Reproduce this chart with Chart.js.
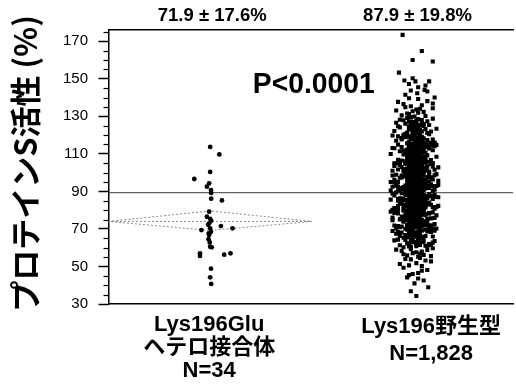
<!DOCTYPE html>
<html><head><meta charset="utf-8">
<script src="https://cdn.jsdelivr.net/npm/chart.js@4.4.1/dist/chart.umd.min.js"></script>
<style>html,body{margin:0;padding:0;background:#fff}canvas{display:block}</style>
</head><body>
<canvas id="c" width="516" height="384" style="width:516px;height:384px"></canvas>
<script>
// ---------- data ----------
const groupNames = [['Lys196Glu', 'ヘテロ接合体'], ['Lys196野生型']];
const groupN = ['N=34', 'N=1,828'];
const groupCenters = [1, 2];
const groupMeans = [71.9, 87.9];
const groupSDs = [17.6, 19.8];
const pValueText = 'P<0.0001';
const yTitle = ' プロテインS活性 (%)';
const refLineValue = 89.3;
const diamondValues = [69.2, 74.0, 79.6]; // low, centre, high
const yTickValues = [30, 50, 70, 90, 110, 130, 150, 170];
const yMinorTickValues = [35, 40, 45, 55, 60, 65, 75, 80, 85, 95, 100, 105, 115, 120, 125, 135, 140, 145, 155, 160, 165, 175];

// Lys196Glu heterozygotes (N=34)
const hetValues = [113.7, 109.7, 100.4, 96.6, 94.3, 92.5, 90.7, 89.2, 86.1, 85.2,
  79.2, 76.5, 75.4, 74.3, 73.0, 72.2, 71.5, 70.3, 70.3, 69.4,
  68.5, 67.6, 66.8, 64.5, 62.8, 60.5, 60.2, 57.0, 55.6, 56.3,
  57.0, 48.8, 44.2, 40.7];
const hetJitter = [0.00, 0.045, 0.00, -0.078, -0.005, -0.016, 0.004, 0.005, 0.005, 0.058,
  -0.005, -0.016, 0.00, 0.005, -0.005, -0.01, 0.053, 0.00, 0.11, -0.043,
  0.004, -0.007, -0.005, -0.008, -0.002, 0.00, 0.008, -0.05, -0.05, 0.069,
  0.10, 0.004, 0.00, 0.005];

// Lys196 wild type (visible marks of N=1,828)
const wtValues = [
  173.4,164.8,160.0,159.2,153.3,150.3,149.1,148.6,148.6,144.1,143.2,142.3,140.0,147.2,145.5,141.5,143.8,146.4,
  139.2,136.5,138.1,135.4,137.7,135.9,139.6,136.8,
  134.3,131.2,133.6,130.5,132.4,134.8,131.9,130.2,133.1,132.7,134.0,131.5,
  129.6,126.3,128.2,125.7,127.4,129.1,125.2,126.9,128.8,127.9,125.9,129.9,126.6,128.5,127.1,125.4,128.0,126.1,
  124.6,121.3,123.2,120.4,122.8,124.1,121.9,120.9,123.7,122.2,124.9,121.6,120.2,123.4,122.5,124.3,121.1,120.7,123.9,122.0,124.7,121.8,120.5,123.0,122.6,
  119.5,116.2,118.4,115.3,117.6,119.1,116.8,115.8,118.9,117.2,119.8,116.5,115.1,118.1,117.9,119.3,116.0,115.6,118.6,117.4,119.6,116.9,115.4,118.3,117.0,119.0,116.4,115.9,118.7,117.7,116.6,118.0,
  114.7,111.2,113.5,110.3,112.6,114.1,111.8,110.8,113.9,112.2,114.9,111.5,110.1,113.1,112.9,114.4,111.0,110.6,113.6,112.4,114.6,111.9,110.4,113.3,112.0,114.0,111.4,110.9,113.7,112.7,111.6,113.0,114.3,110.2,112.3,111.1,113.8,114.8,
  109.4,106.1,108.3,105.2,107.5,109.0,106.7,105.7,108.8,107.1,109.7,106.4,105.0,108.0,107.8,109.2,105.9,105.5,108.5,107.3,109.5,106.8,105.3,108.2,106.9,109.9,106.3,105.8,108.6,107.6,106.5,107.9,109.1,105.1,107.2,106.0,108.7,109.6,106.2,107.4,108.1,105.6,
  104.5,101.2,103.3,100.4,102.6,104.0,101.7,100.9,103.8,102.1,104.8,101.5,100.2,103.0,102.9,104.3,101.0,100.6,103.5,102.3,104.6,101.9,100.1,103.2,102.0,104.9,101.3,100.7,103.7,102.7,101.6,102.8,104.1,100.3,102.4,101.1,103.9,104.7,101.4,102.5,103.1,100.8,104.2,101.8,103.6,100.5,102.2,103.4,
  99.6,96.3,98.4,95.2,97.5,99.1,96.8,95.7,98.9,97.1,99.8,96.5,95.0,98.1,97.9,99.3,96.0,95.5,98.6,97.3,99.5,96.9,95.3,98.3,97.0,99.0,96.2,95.9,98.7,97.7,96.6,98.0,99.2,95.1,97.2,96.1,98.8,99.7,96.4,97.4,98.2,95.8,99.4,96.7,98.5,95.4,97.6,99.9,96.1,97.8,95.6,98.4,
  94.5,91.2,93.4,90.3,92.6,94.1,91.8,90.7,93.9,92.2,94.8,91.5,90.1,93.1,92.9,94.3,91.0,90.6,93.6,92.4,94.6,91.9,90.4,93.3,92.0,94.0,91.4,90.9,93.7,92.7,91.6,93.0,94.2,90.2,92.3,91.1,93.8,94.7,91.3,92.5,93.2,90.8,94.4,91.7,93.5,90.5,92.1,94.9,91.1,92.8,90.0,93.4,92.6,94.2,91.6,
  89.4,86.1,88.3,85.2,87.5,89.0,86.7,85.7,88.8,87.1,89.7,86.4,85.0,88.0,87.8,89.2,85.9,85.5,88.5,87.3,89.5,86.8,85.3,88.2,86.9,89.9,86.3,85.8,88.6,87.6,86.5,87.9,89.1,85.1,87.2,86.0,88.7,89.6,86.2,87.4,88.1,85.6,89.3,86.6,88.4,85.4,87.0,89.8,86.9,87.7,85.9,88.9,87.5,86.3,88.2,
  84.6,81.3,83.2,80.4,82.7,84.1,81.8,80.8,83.9,82.1,84.9,81.5,80.2,83.0,82.9,84.4,81.0,80.6,83.6,82.3,84.7,81.9,80.1,83.3,82.0,84.0,81.4,80.9,83.7,82.6,81.6,82.8,84.2,80.3,82.4,81.1,83.8,84.8,81.2,82.5,83.1,80.7,84.3,81.7,83.5,80.5,82.2,84.5,81.5,83.4,80.0,82.9,
  79.5,76.2,78.4,75.3,77.6,79.1,76.8,75.8,78.9,77.2,79.8,76.5,75.1,78.1,77.9,79.3,76.0,75.6,78.6,77.4,79.6,76.9,75.4,78.3,77.0,79.0,76.4,75.9,78.7,77.7,76.6,78.0,79.2,75.2,77.3,76.1,78.8,79.7,76.3,77.5,78.2,75.7,79.4,76.7,78.5,
  74.6,71.3,73.2,70.4,72.7,74.1,71.8,70.8,73.9,72.1,74.9,71.5,70.2,73.0,72.9,74.4,71.0,70.6,73.6,72.3,74.7,71.9,70.1,73.3,72.0,74.0,71.4,70.9,73.7,72.6,71.6,72.8,74.2,70.3,72.4,71.1,73.8,74.8,
  69.5,66.2,68.3,65.4,67.6,69.1,66.8,65.8,68.9,67.2,69.8,66.5,65.1,68.1,67.9,69.3,66.0,65.6,68.6,67.4,69.6,66.9,65.3,68.4,67.0,69.0,66.3,65.9,68.7,67.7,
  64.6,61.3,63.2,60.5,62.7,64.1,61.8,60.9,63.9,62.1,64.8,61.5,60.2,63.0,62.9,64.3,61.0,60.7,63.6,62.3,64.5,61.9,
  59.4,56.2,58.3,55.5,57.6,59.0,56.8,55.9,58.8,57.1,59.7,56.5,55.2,58.0,
  54.5,51.3,53.2,50.6,52.7,54.0,51.8,50.2,53.8,
  49.3,46.5,48.1,45.4,47.7,46.0,
  44.2,42.5,41.0,43.6,
  38.9,36.8,
  34.3,
  // dense core
  60.8,62.3,63.9,65.1,66.7,68.2,69.6,61.5,64.4,67.3,69.0,62.9,65.8,68.7,63.2,
  70.3,71.8,73.1,74.6,75.9,77.4,78.8,79.7,70.9,72.5,73.8,75.2,76.6,78.1,79.3,71.2,72.9,74.1,75.6,77.0,78.5,70.6,72.1,73.5,74.9,76.3,77.8,79.1,71.5,76.0,
  80.2,81.4,82.7,83.9,85.1,86.4,87.6,88.9,80.8,82.0,83.3,84.5,85.8,87.0,88.3,89.5,81.1,82.4,83.6,84.9,86.1,87.3,88.6,89.8,80.5,81.7,83.0,84.2,85.5,86.7,88.0,89.2,81.9,84.0,86.0,88.1,82.9,85.3,87.8,89.0,
  90.3,91.5,92.8,94.0,95.2,96.5,97.7,99.0,90.9,92.1,93.4,94.6,95.9,97.1,98.4,99.6,91.2,92.4,93.7,94.9,96.2,97.4,98.7,99.9,90.6,91.8,93.1,94.3,95.6,96.8,98.1,99.3,92.6,94.8,97.0,99.1,91.0,93.9,96.0,98.9,
  100.4,101.7,102.9,104.2,105.4,106.7,107.9,109.2,100.9,102.2,103.5,104.7,106.0,107.3,108.5,109.8,101.2,102.6,103.9,105.1,106.4,107.6,108.9,100.1,101.5,102.8,104.0,105.7,106.9,108.2,109.5,103.1,105.9,108.0,101.9,
  110.3,111.6,112.8,114.1,115.3,116.6,117.8,119.1,110.9,112.2,113.4,114.7,116.0,117.2,118.5,119.7,111.2,113.8,115.7,118.0,110.6,112.5,114.4,116.9,119.4,
  120.4,121.8,123.1,124.5,125.9,127.2,120.9,122.3,123.7,125.0,126.4,127.8,121.4,124.0,126.8];
const wtJitter = [
  -.065,.04,-.01,.10,-.085,-.01,-.055,.005,.08,.055,.07,.015,.11,-.03,.02,-.05,-.02,.06,
  .02,-.06,.07,-.02,-.09,.04,-.03,.10,
  .10,-.03,.01,-.07,.05,-.05,.02,.06,-.10,-.01,.03,-.04,
  -.02,.04,-.08,.01,.07,-.04,.03,-.01,.10,-.06,.05,.00,-.10,.02,-.03,.08,.04,-.05,
  .01,-.04,.06,-.01,.03,-.08,.09,.02,-.03,-.11,.05,.00,-.06,.12,.03,-.02,.07,-.05,.01,.04,-.09,.02,.08,-.03,.00,
  -.01,.05,-.07,.02,.10,-.03,.00,.06,-.05,.03,-.12,.01,.08,-.02,.04,-.09,.11,-.04,.00,.07,-.06,.02,-.01,.05,-.10,.03,-.03,.09,.01,-.07,.04,-.02,
  .02,-.04,.07,-.01,.00,.11,-.06,.03,-.02,.05,-.09,.01,.04,-.12,.08,-.03,.00,.06,-.07,.02,-.01,.10,-.05,.03,-.02,.04,-.08,.01,.06,-.03,.00,-.11,.09,.02,-.04,.05,-.01,.12,
  -.03,.01,.06,-.08,.03,-.01,.09,-.04,.02,.00,-.06,.05,-.11,.04,-.02,.07,.01,-.05,.12,-.03,.02,-.09,.06,-.01,.03,-.13,.00,.08,-.04,.02,-.07,.05,-.02,.10,.01,-.05,.03,-.01,.06,-.03,.00,.04,
  .01,-.05,.03,.08,-.02,.00,-.09,.04,-.01,.06,-.04,.11,.02,-.07,.00,.03,-.12,.05,-.03,.01,.09,-.06,.02,-.01,.04,-.10,.07,-.02,.00,.05,-.04,.13,-.08,.01,-.03,.06,.02,-.05,.03,-.01,.10,-.06,.00,.04,-.11,.02,-.02,.07,
  -.02,.04,-.07,.01,.09,-.04,.00,.06,-.10,.03,-.01,.05,-.13,.02,-.05,.08,.00,-.03,.11,-.08,.03,-.01,.06,-.06,.01,.04,-.11,.02,-.02,.07,-.04,.00,.12,-.09,.03,-.01,.05,-.03,.10,-.07,.01,.04,-.05,.02,-.12,.08,.00,-.02,.06,-.04,.13,-.01,
  .03,-.06,.01,.10,-.03,.00,-.08,.05,-.02,.07,-.11,.02,.04,-.05,.12,-.01,.03,-.09,.06,-.04,.01,.08,-.13,.00,.05,-.02,-.07,.11,.02,-.03,.06,-.10,.01,.04,-.06,.00,.09,-.02,.03,-.12,.07,-.04,.02,-.01,.13,-.08,.05,-.03,.00,.10,-.05,.01,-.09,.04,-.02,
  -.01,.05,-.04,.02,.09,-.07,.00,.03,-.12,.06,-.02,.01,-.09,.11,-.03,.04,-.06,.00,.08,-.01,-.10,.03,.05,-.05,.13,.02,-.08,.00,.04,-.03,.07,-.11,.01,.06,-.02,.10,-.04,.02,-.07,.00,.05,-.13,.03,-.01,.08,-.05,.12,.01,-.03,.04,-.09,.00,.06,-.02,.02,
  .02,-.03,.07,-.09,.00,.04,-.05,.11,-.01,.03,-.07,.06,-.12,.01,.09,-.02,.04,-.06,.00,.13,-.04,.02,-.10,.05,-.01,.08,-.03,.00,-.08,.03,.10,-.05,.01,-.02,.06,-.11,.04,-.01,.02,-.06,.07,.00,-.04,.12,-.03,.05,-.09,.01,.03,-.07,.04,-.01,
  -.04,.01,.08,-.02,.05,-.10,.03,-.06,.00,.12,-.03,.02,-.08,.06,-.01,.04,-.12,.09,.01,-.05,.03,-.02,.07,-.09,.00,.05,-.04,.11,-.01,.02,-.07,.04,-.13,.01,.06,-.03,.10,-.06,.02,-.01,.08,-.04,.00,.03,-.11,
  .03,-.07,.00,.10,-.02,.05,-.11,.01,.07,-.04,.02,-.09,.12,-.01,.04,-.06,.00,.08,-.03,.01,-.12,.06,-.05,.02,.09,-.02,.03,-.08,.00,.11,-.04,.05,-.01,-.10,.07,.02,-.06,.04,
  -.03,.06,-.09,.02,.00,.11,-.05,.04,-.12,.01,.08,-.02,.05,-.07,.03,-.01,.10,-.04,.02,-.10,.06,.00,-.06,.09,-.03,.04,-.08,.01,.07,-.01,
  .02,-.08,.05,-.02,.10,-.05,.01,.07,-.11,.03,-.01,.09,-.06,.00,.04,-.09,.06,-.03,.11,-.04,.02,.08,
  -.02,.05,-.07,.09,.01,-.10,.03,-.04,.07,-.01,.10,-.06,.02,.04,
  .03,-.08,.06,-.03,.09,-.05,.01,.04,-.02,
  -.06,.02,.07,-.03,.04,-.01,
  -.04,.05,.00,.02,
  .075,-.02,
  .01,
  // dense core
  .01,-.03,.02,.04,-.01,.00,-.04,.03,-.02,.01,.03,-.01,.02,-.03,.00,
  -.02,.03,.00,-.04,.02,.01,-.03,.04,.00,-.01,.03,-.02,.01,-.04,.02,.04,-.03,.00,.02,-.01,.03,-.02,.01,.04,-.03,.00,.02,-.01,-.04,.03,
  .00,.03,-.02,.01,-.04,.02,.04,-.01,-.03,.02,.00,-.02,.03,.01,-.04,.04,-.01,.02,-.03,.00,.04,-.02,.01,-.03,.03,-.01,.02,-.04,.00,.03,-.02,.01,.04,-.03,.00,.02,-.01,.03,-.02,.01,
  .02,-.01,.04,-.03,.00,.01,-.02,.03,-.04,.02,-.01,.00,.03,-.03,.01,.04,-.02,.00,.02,-.04,.03,.01,-.01,.00,-.03,.04,.01,-.02,.02,.00,-.04,.03,-.01,.01,-.03,.02,.04,-.02,.00,.01,
  -.01,.02,.00,-.03,.04,.01,-.02,.03,.00,-.04,.02,.01,-.01,.03,-.03,.00,.04,-.02,.01,-.01,.02,-.04,.03,.00,-.02,.01,.04,-.03,.00,.02,-.01,.03,-.02,.01,.00,
  .01,-.02,.03,.00,-.03,.02,-.01,.04,-.04,.00,.02,-.02,.01,.03,-.01,.00,.02,-.03,.04,-.02,.00,.01,-.01,.03,-.03,
  -.01,.02,.00,-.03,.01,-.02,.03,-.01,.02,.00,-.02,.01,.03,-.02,.00];

// ---------- build ----------
const FONT_LATIN = '"Liberation Sans", Arial, Helvetica, sans-serif';
const FONT_MIXED = '"Liberation Sans", Arial, "Noto Sans CJK JP", sans-serif';
const X_MIN = 0.5, X_MAX = 2.49;
const xLabelAt = [0.995, 2.087];
const statsAt = [1.01, 2.02];
const pValueAt = {x: 1.51, y: 142.3};
const JITTER_SCALE = 0.9;

const hetPoints = hetValues.map((v, i) => ({x: groupCenters[0] + hetJitter[i], y: v}));
const nWt = Math.min(wtValues.length, wtJitter.length);
const wtPoints = [];
for (let i = 0; i < nWt; i++) wtPoints.push({x: groupCenters[1] + 0.005 + JITTER_SCALE * wtJitter[i], y: wtValues[i]});

const [dLow, dMid, dHigh] = diamondValues;
const diamondPts = [
  {x: X_MIN, y: dMid}, {x: groupCenters[0], y: dHigh}, {x: 1.5, y: dMid},
  {x: groupCenters[0], y: dLow}, {x: X_MIN, y: dMid}, {x: 1.5, y: dMid}
];

const annotPlugin = {
  id: 'annot',
  afterDraw(chart) {
    const {ctx, chartArea, scales: {x, y}} = chart;
    ctx.save();
    ctx.strokeStyle = '#000';
    ctx.lineWidth = 1.2;
    yMinorTickValues.forEach(v => {
      const py = Math.round(y.getPixelForValue(v)) + 0.5;
      ctx.beginPath();
      ctx.moveTo(chartArea.left - 5, py);
      ctx.lineTo(chartArea.left, py);
      ctx.stroke();
    });
    ctx.fillStyle = '#000';
    ctx.textAlign = 'center';
    ctx.textBaseline = 'alphabetic';
    ctx.font = 'bold 18.5px ' + FONT_LATIN;
    groupMeans.forEach((m, i) => {
      ctx.fillText(m.toFixed(1) + ' ± ' + groupSDs[i].toFixed(1) + '%', x.getPixelForValue(statsAt[i]), 21, 117);
    });
    ctx.font = 'bold 30px ' + FONT_LATIN;
    ctx.fillText(pValueText, x.getPixelForValue(pValueAt.x), y.getPixelForValue(pValueAt.y), 122);
    ctx.restore();
  }
};

new Chart(document.getElementById('c'), {
  type: 'scatter',
  data: {
    datasets: [
      {label: 'Lys196Glu', data: hetPoints, pointStyle: 'circle', pointRadius: 2.4, pointHoverRadius: 2.4,
       backgroundColor: '#000', borderWidth: 0},
      {label: 'Lys196', data: wtPoints, pointStyle: 'rect', pointRadius: 2.9, pointHoverRadius: 2.9,
       backgroundColor: '#000', borderWidth: 0},
      {label: 'ref', data: [{x: X_MIN, y: refLineValue}, {x: X_MAX, y: refLineValue}], showLine: true,
       borderColor: '#3a3a3a', borderWidth: 1, pointRadius: 0},
      {label: 'diamond', data: diamondPts, showLine: true, borderColor: '#8a8a8a', borderWidth: 1,
       borderDash: [2, 2], pointRadius: 0}
    ]
  },
  options: {
    responsive: false,
    animation: false,
    devicePixelRatio: 1,
    layout: {padding: {top: 30, left: 0, right: 0, bottom: 0}},
    plugins: {legend: {display: false}, tooltip: {enabled: false}},
    scales: {
      x: {
        type: 'linear', position: 'bottom', min: X_MIN, max: X_MAX,
        grid: {display: false, drawTicks: false},
        border: {display: true, color: '#000', width: 1.5},
        afterBuildTicks: s => { s.ticks = xLabelAt.map(v => ({value: v})); },
        afterFit: s => { s.height = 80; },
        ticks: {
          autoSkip: false, maxRotation: 0, padding: 9, color: '#000',
          font: c => ({family: FONT_MIXED, size: 22, weight: 'bold', lineHeight: c.index === 1 ? 1.24 : 1.05}),
          callback: (v, i) => [...groupNames[i], groupN[i]]
        }
      },
      xTop: {
        type: 'linear', position: 'top', min: X_MIN, max: X_MAX,
        grid: {display: false, drawTicks: false},
        border: {display: true, color: '#000', width: 1.5},
        ticks: {display: false}
      },
      y: {
        min: 30, max: 176,
        afterBuildTicks: s => { s.ticks = yTickValues.map(v => ({value: v})); },
        afterFit: s => { s.width = 108.5; },
        grid: {display: true, drawOnChartArea: false, drawTicks: true, tickLength: 10, tickColor: '#000', tickWidth: 1.5},
        border: {display: true, color: '#000', width: 1.5},
        ticks: {padding: 10.5, color: '#000', font: {family: FONT_LATIN, size: 15}, callback: v => String(v)},
        title: {
          display: true, text: yTitle, color: '#000',
          font: {family: '"Noto Sans CJK JP", sans-serif', size: 31, weight: 'bold', lineHeight: 1},
          padding: {top: 10, bottom: 10}
        }
      }
    }
  },
  plugins: [annotPlugin]
});
</script>
</body></html>
